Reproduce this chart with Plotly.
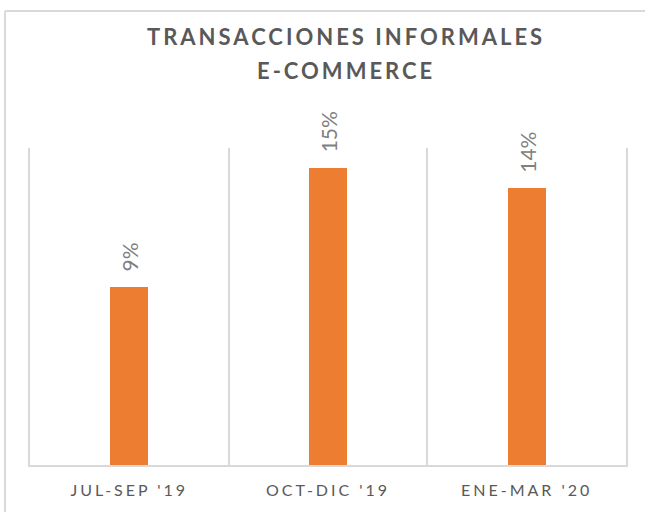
import plotly.graph_objects as go

categories = ["JUL-SEP '19", "OCT-DIC '19", "ENE-MAR '20"]
values = [9, 15, 14]
label_texts = [f"{v}%" for v in values]
title_lines = ["TRANSACCIONES INFORMALES", "E-COMMERCE"]

BAR_COLOR = "#ED7D31"
GRID = "#D9D9D9"
TXT = "#595959"
LBL = "#808080"
FONT = "Lato, 'Open Sans', sans-serif"

W, H = 645, 512
L, R, T, B = 30, 19, 148, 47
pw, ph = W - L - R, H - T - B

def px_x(x):
    return (x - L) / pw

def px_y(y):
    return (H - B - y) / ph

fig = go.Figure()
fig.add_trace(go.Bar(
    x=categories, y=values, width=0.19,
    marker=dict(color=BAR_COLOR, line=dict(width=0)),
    hoverinfo="skip", showlegend=False,
))

annotations = []
for c, v, t in zip(categories, values, label_texts):
    annotations.append(dict(
        x=c, y=v, xref="x", yref="y", text=t, showarrow=False,
        textangle=-90, yanchor="bottom", xanchor="center", yshift=13,
        font=dict(family=FONT, size=21, color=LBL),
    ))

annotations.append(dict(
    x=px_x(346), y=px_y(37), xref="paper", yref="paper", text=title_lines[0],
    showarrow=False, xanchor="center", yanchor="middle",
    font=dict(family=FONT, size=22, color=TXT, weight="bold"),
))
annotations.append(dict(
    x=px_x(346), y=px_y(71), xref="paper", yref="paper", text=title_lines[1],
    showarrow=False, xanchor="center", yanchor="middle",
    font=dict(family=FONT, size=22, color=TXT, weight="bold"),
))

shapes = [
    dict(type="line", xref="paper", yref="paper",
         x0=px_x(5), x1=px_x(700), y0=px_y(11), y1=px_y(11),
         line=dict(color=GRID, width=2), layer="below"),
    dict(type="line", xref="paper", yref="paper",
         x0=px_x(5), x1=px_x(5), y0=px_y(11), y1=px_y(560),
         line=dict(color=GRID, width=2), layer="below"),
]

fig.update_layout(
    width=W, height=H,
    margin=dict(l=L, r=R, t=T, b=B, pad=0),
    paper_bgcolor="white", plot_bgcolor="white",
    annotations=annotations, shapes=shapes,
    bargap=0,
    xaxis=dict(
        type="category", tickson="boundaries", showgrid=True,
        gridcolor=GRID, gridwidth=2, showline=True, linecolor=GRID,
        linewidth=2, ticks="", ticklabelstandoff=10,
        tickfont=dict(family=FONT, size=16, color=TXT),
        range=[-0.5, 2.5], fixedrange=True,
    ),
    yaxis=dict(
        range=[0, 16], showgrid=False, zeroline=False,
        showticklabels=False, showline=True, mirror=True,
        linecolor=GRID, linewidth=2, ticks="", fixedrange=True,
    ),
)

post = """
document.body.style.margin = '0';
document.body.style.padding = '0';
var gd = document.getElementById('{plot_id}');
gd.querySelectorAll('.xtick text').forEach(function(e){ e.style.letterSpacing='3px'; });
gd.querySelectorAll('.annotation-text').forEach(function(e){
  var t = e.textContent;
  if (t.indexOf('%') < 0) { e.style.letterSpacing='3px'; }
});
"""

fig.write_html("out.html", post_script=post, config={"displayModeBar": False})
